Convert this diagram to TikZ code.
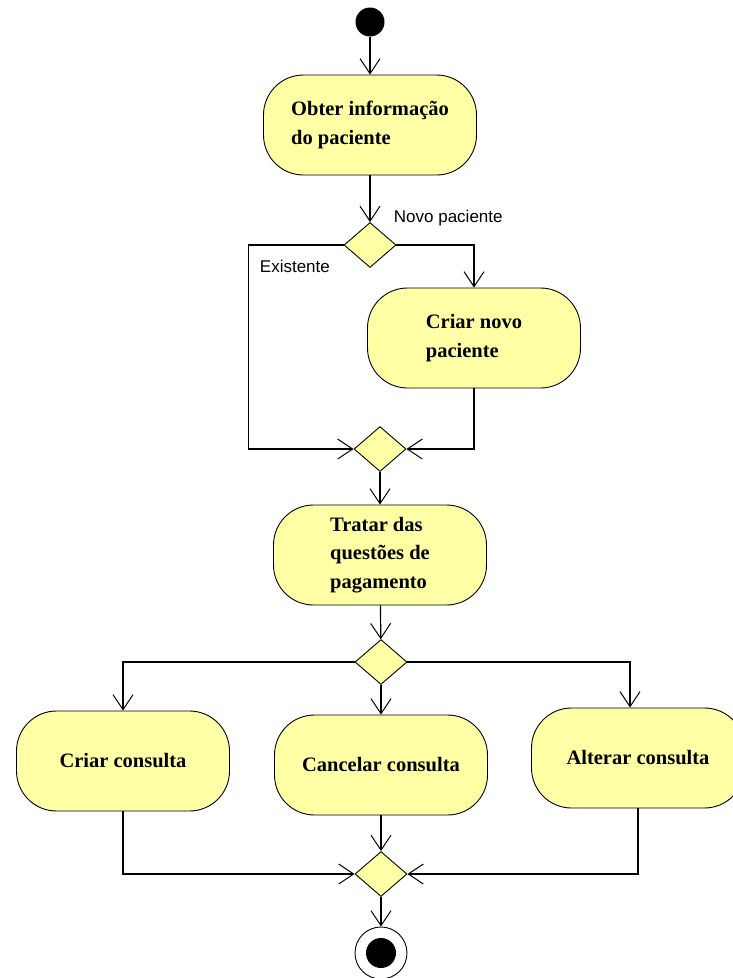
\documentclass[tikz,border=0pt]{standalone}
\usepackage{fontspec}
\setmainfont{Liberation Serif}
\newfontfamily\lblfont{Liberation Sans}
\usetikzlibrary{arrows.meta,shapes.geometric}
\definecolor{actfill}{RGB}{255,255,166}
\begin{document}
\begin{tikzpicture}[x=1pt,y=-1pt,line width=1.2pt,
        act/.style={draw,line width=0.9pt,fill=actfill,rounded corners=40pt,
            minimum width=213pt,minimum height=100pt,align=left,
            font=\fontsize{20.5}{28.5}\selectfont\bfseries},
        dec/.style={draw,line width=0.9pt,fill=actfill,diamond,aspect=1.15,
            minimum width=52pt,minimum height=45pt,inner sep=0pt},
        arr/.style={-{Straight Barb[length=15pt,width=20pt,line width=1pt]}},
        lbl/.style={font=\lblfont\fontsize{17}{19}\selectfont}]
        \useasboundingbox (0,0) rectangle (733,978);
        % \draw[red] (0,0) rectangle (733,978);
        \node[circle,fill=black,minimum size=29pt,inner sep=0pt] (start) at (370,22) {};
        \node[act] (obter) at (370,125) {Obter informação\\do paciente};
        \node[dec] (d1) at (370,245) {};
        \node[act] (crnovo) at (474,338) {Criar novo\\paciente};
        \node[dec] (m1) at (380,449) {};
        \node[act] (tratar) at (380,555) {Tratar das\\questões de\\pagamento};
        \node[dec] (d2) at (381,662) {};
        \node[act] (crcons) at (123,761) {Criar consulta};
        \node[act] (cancons) at (381,765) {Cancelar consulta};
        \node[act] (altcons) at (638,758) {Alterar consulta};
        \node[dec] (m2) at (381,874) {};
        \node[circle,draw,line width=0.9pt,minimum size=52pt,inner sep=0pt] (stop) at (381,953) {};
        \fill (stop.center) circle (15pt);

        \node[lbl,anchor=west] (novo) at (390,218) {Novo paciente};
        \node[lbl,anchor=west] (exist) at (256,266) {Existente};

        \draw[arr] (start) -- (obter);
        \draw[arr] (obter) -- (d1);
        \draw[arr] (d1.west) -- ++(-95,0) |- (m1.west);
        \draw[arr] (d1.east) -| (crnovo.north);
        \draw[arr] (crnovo.south) |- (m1.east);
        \draw[arr] (m1) -- (tratar);
        \draw[arr] (tratar) -- (d2);
        \draw[arr] (d2.west) -| (crcons.north);
        \draw[arr] (d2) -- (cancons);
        \draw[arr] (d2.east) -| ([xshift=-8pt]altcons.north);
        \draw[arr] (crcons.south) |- (m2.west);
        \draw[arr] (cancons) -- (m2);
        \draw[arr] (altcons.south) |- (m2.east);
        \draw[arr] (m2) -- (stop);
\end{tikzpicture}
\end{document}
